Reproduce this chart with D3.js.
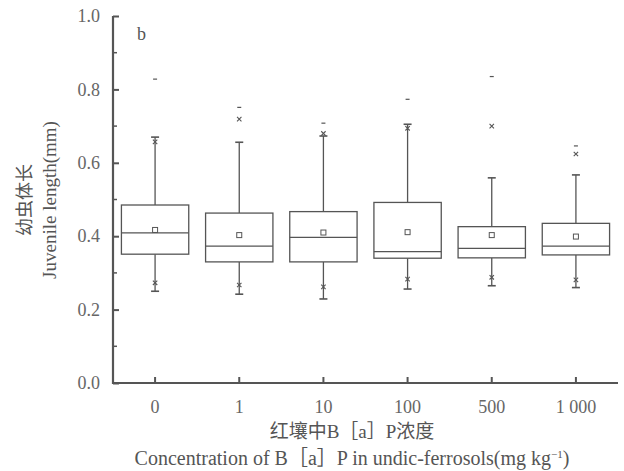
<!DOCTYPE html>
<html lang="zh-CN">
<head>
<meta charset="utf-8">
<title>幼虫体长</title>
<style>
  body { margin: 0; background: #fff; }
  text { font-family: "Liberation Serif", "Noto Sans CJK SC", serif; fill: #555; }
</style>
</head>
<body>
<div id="chart"></div>
<script src="https://cdn.jsdelivr.net/npm/d3@7/dist/d3.min.js"></script>
<script>
// concentrations of B[a]P (mg/kg)
var categories = ["0", "1", "10", "100", "500", "1 000"];
// box statistics
var q1      = [0.351, 0.330, 0.330, 0.340, 0.341, 0.349];
var median  = [0.409, 0.373, 0.397, 0.358, 0.367, 0.373];
var q3      = [0.485, 0.463, 0.467, 0.492, 0.426, 0.435];
var mean    = [0.417, 0.403, 0.410, 0.411, 0.403, 0.399];
var whiskLo = [0.250, 0.242, 0.229, 0.256, 0.265, 0.260];
var whiskHi = [0.670, 0.656, 0.673, 0.705, 0.559, 0.567];
var p1      = [0.273, 0.267, 0.262, 0.283, 0.288, 0.281];
var p99     = [0.657, 0.719, 0.680, 0.694, 0.700, 0.624];
var maxVal  = [0.828, 0.751, 0.708, 0.773, 0.835, 0.646];
var yTicks = [0, 0.2, 0.4, 0.6, 0.8, 1.0];

var width = 624, height = 471;
var mLeft = 113, mRight = 618, mTop = 16, mBottom = 383;

var svg = d3.select("#chart").append("svg")
  .attr("width", width).attr("height", height);

var x = d3.scaleBand().domain(categories).range([mLeft, mRight])
  .paddingInner(0.2).paddingOuter(0.1);
var y = d3.scaleLinear().domain([0, 1]).range([mBottom, mTop]);

var ink = "#555";

// y axis
var yAxis = svg.append("g").attr("transform", "translate(" + mLeft + ",0)")
  .call(d3.axisLeft(y).tickValues(yTicks).tickFormat(d3.format(".1f"))
    .tickSize(-6).tickPadding(13));
yAxis.select(".domain").remove();
yAxis.selectAll("line").attr("stroke", ink).attr("stroke-width", 2);
yAxis.selectAll("text").attr("font-size", 18).style("fill", "#666");

// minor y ticks
svg.append("g").selectAll("line")
  .data([0.1, 0.3, 0.5, 0.7, 0.9]).enter().append("line")
  .attr("x1", mLeft).attr("x2", mLeft + 4)
  .attr("y1", function(d) { return y(d); }).attr("y2", function(d) { return y(d); })
  .attr("stroke", ink).attr("stroke-width", 1.5);

// x axis
var xAxis = svg.append("g").attr("transform", "translate(0," + mBottom + ")")
  .call(d3.axisBottom(x).tickSize(-6).tickPadding(17));
xAxis.select(".domain").remove();
xAxis.selectAll("line").attr("stroke", ink).attr("stroke-width", 2);
xAxis.selectAll("text").attr("font-size", 18).style("fill", "#666");

// axis lines
svg.append("line").attr("x1", mLeft).attr("x2", mLeft)
  .attr("y1", y(1)).attr("y2", mBottom + 1)
  .attr("stroke", ink).attr("stroke-width", 2.2);
svg.append("line").attr("x1", mLeft - 1).attr("x2", mRight)
  .attr("y1", mBottom).attr("y2", mBottom)
  .attr("stroke", ink).attr("stroke-width", 2.2);

// boxes
var idx = d3.range(categories.length);
var gBox = svg.append("g").attr("stroke", ink).attr("fill", "none");
var cx = function(i) { return x(categories[i]) + x.bandwidth() / 2; };

idx.forEach(function(i) {
  var c = cx(i), cap = 4;
  // whiskers
  gBox.append("line").attr("x1", c).attr("x2", c)
    .attr("y1", y(q3[i])).attr("y2", y(whiskHi[i])).attr("stroke-width", 1.3);
  gBox.append("line").attr("x1", c).attr("x2", c)
    .attr("y1", y(q1[i])).attr("y2", y(whiskLo[i])).attr("stroke-width", 1.3);
  [whiskHi[i], whiskLo[i]].forEach(function(v) {
    gBox.append("line").attr("x1", c - cap).attr("x2", c + cap)
      .attr("y1", y(v)).attr("y2", y(v)).attr("stroke-width", 1.6);
  });
  // box
  gBox.append("rect").attr("x", x(categories[i])).attr("width", x.bandwidth())
    .attr("y", y(q3[i])).attr("height", y(q1[i]) - y(q3[i]))
    .attr("fill", "#fff").attr("stroke-width", 1.3);
  gBox.append("line").attr("x1", x(categories[i])).attr("x2", x(categories[i]) + x.bandwidth())
    .attr("y1", y(median[i])).attr("y2", y(median[i])).attr("stroke-width", 1.3);
  // mean square
  gBox.append("rect").attr("x", c - 2.5).attr("y", y(mean[i]) - 2.5)
    .attr("width", 5).attr("height", 5).attr("stroke-width", 1);
  // 1% / 99% crosses
  [p1[i], p99[i]].forEach(function(v) {
    var s = 2.2;
    gBox.append("path")
      .attr("d", "M" + (c - s) + "," + (y(v) - s) + "L" + (c + s) + "," + (y(v) + s) +
                 "M" + (c - s) + "," + (y(v) + s) + "L" + (c + s) + "," + (y(v) - s))
      .attr("stroke-width", 1.1);
  });
  // max dash
  gBox.append("line").attr("x1", c - 2).attr("x2", c + 2)
    .attr("y1", y(maxVal[i])).attr("y2", y(maxVal[i])).attr("stroke-width", 1.2);
});

// panel label
svg.append("text").attr("x", 137).attr("y", 40).attr("font-size", 18).text("b");

// y title
svg.append("text").attr("transform", "translate(31,200) rotate(-90)")
  .attr("text-anchor", "middle").attr("font-size", 18).text("幼虫体长");
svg.append("text").attr("transform", "translate(56,200) rotate(-90)")
  .attr("text-anchor", "middle").attr("font-size", 19).text("Juvenile length(mm)");

// x titles
svg.append("text").attr("x", 352).attr("y", 438).attr("text-anchor", "middle")
  .attr("font-size", 19).text("红壤中B［a］P浓度");
var t = svg.append("text").attr("x", 352).attr("y", 465).attr("text-anchor", "middle")
  .attr("font-size", 20);
t.append("tspan").text("Concentration of B［a］P in undic-ferrosols(mg kg");
t.append("tspan").attr("dy", -7).attr("font-size", 11).text("−1");
t.append("tspan").attr("dy", 7).text(")");
</script>
</body>
</html>
